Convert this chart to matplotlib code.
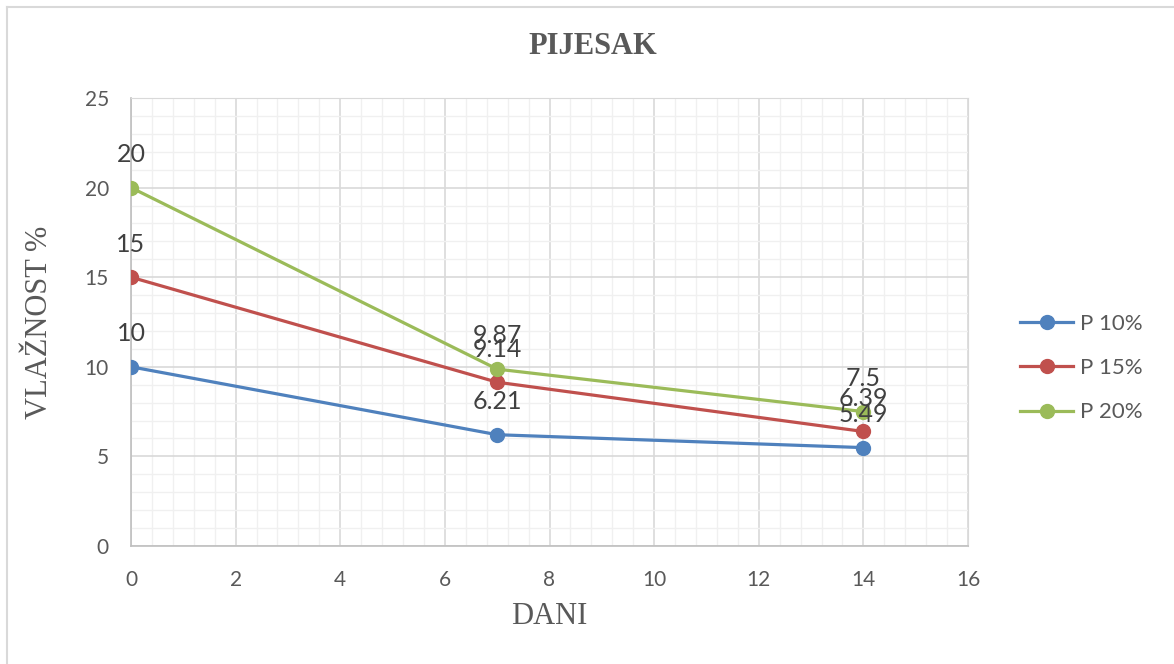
import matplotlib
matplotlib.use('Agg')
import matplotlib.pyplot as plt
from matplotlib.lines import Line2D
from matplotlib.ticker import MultipleLocator

# data
dani = [0, 7, 14]
p10 = [10, 6.21, 5.49]
p15 = [15, 9.14, 6.39]
p20 = [20, 9.87, 7.5]
labels = ['P 10%', 'P 15%', 'P 20%']
colors = ['#4F81BD', '#C0504D', '#9BBB59']

sans = ['Lato', 'DejaVu Sans']
serif = ['Liberation Serif', 'DejaVu Serif']
txt = '#595959'

fig = plt.figure(figsize=(11.74, 6.64), dpi=100)
ax = fig.add_axes([131/1174, 1 - 546/664, (968 - 131)/1174, (546 - 98)/664])

for ys, lab, c in zip([p10, p15, p20], labels, colors):
    ax.plot(dani, ys, color=c, lw=2.3, marker='o', ms=10, label=lab, zorder=3)
    for x, y in zip(dani, ys):
        ax.annotate(f'{y:g}', (x, y), xytext=(0, 18.5), textcoords='offset points',
                    ha='center', va='baseline', fontsize=18, color='#404040',
                    family=sans, zorder=4)

ax.set_xlim(0, 16)
ax.set_ylim(0, 25)
ax.xaxis.set_major_locator(MultipleLocator(2))
ax.xaxis.set_minor_locator(MultipleLocator(0.4))
ax.yaxis.set_major_locator(MultipleLocator(5))
ax.yaxis.set_minor_locator(MultipleLocator(1))
ax.grid(which='major', color='#D9D9D9', lw=1.2, zorder=1)
ax.grid(which='minor', color='#F0F0F0', lw=1.0, zorder=0)
ax.set_axisbelow(True)
ax.tick_params(which='both', length=0)
ax.tick_params(axis='y', pad=16, labelsize=15, labelcolor=txt)
ax.tick_params(axis='x', pad=17, labelsize=15, labelcolor=txt)
for t in ax.get_xticklabels() + ax.get_yticklabels():
    t.set_family(sans)
for s in ['top', 'right']:
    ax.spines[s].set_color('#D9D9D9')
for s in ['left', 'bottom']:
    ax.spines[s].set_color('#BFBFBF')
    ax.spines[s].set_linewidth(1.2)

fig.text(593/1174, 1 - 47/664, 'PIJESAK', ha='center', va='center', fontsize=22,
         fontweight='bold', family=serif, color=txt)
fig.text(549/1174, 1 - 617/664, 'DANI', ha='center', va='center', fontsize=22,
         family=serif, color=txt)
fig.text(40/1174, 1 - 322/664, 'VLAŽNOST %', ha='center', va='center', fontsize=22,
         family=serif, color=txt, rotation=90)

leg = fig.legend(loc='center left', bbox_to_anchor=(1000/1174, 1 - 368/664),
                 frameon=False, handlelength=2.4, labelspacing=1.1,
                 handletextpad=0.3, prop={'family': sans, 'size': 16})
for t in leg.get_texts():
    t.set_color(txt)

# chart border (only left and top edges visible)
fig.add_artist(Line2D([7/1174, 7/1174], [0, 1 - 7/664], color='#D9D9D9', lw=1.5))
fig.add_artist(Line2D([7/1174, 1], [1 - 7/664, 1 - 7/664], color='#D9D9D9', lw=1.5))

fig.savefig('out.png', dpi=100)
